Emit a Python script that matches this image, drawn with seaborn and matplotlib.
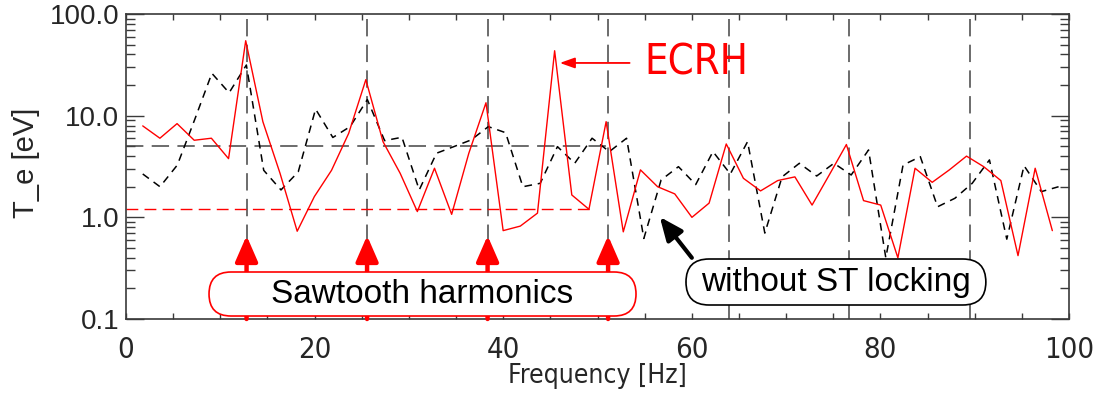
import numpy as np
import pandas as pd
import matplotlib
matplotlib.use("Agg")
import matplotlib.pyplot as plt
import matplotlib.font_manager as fm
import seaborn as sns
from matplotlib.patches import FancyBboxPatch
from matplotlib.ticker import FixedLocator, MultipleLocator, NullFormatter

# ---------------- data ----------------
ecrh_te = [7.93, 6.0, 8.35, 5.73, 6.0, 3.78, 54.6, 8.73, 2.71, 0.73,
           1.6, 2.9, 6.7, 22.6, 5.55, 2.71, 1.14, 3.04, 1.07, 4.27,
           13.4, 0.74, 0.82, 1.1, 43.5, 1.66, 1.2, 8.73, 0.72, 2.93,
           2.0, 1.7, 1.0, 1.38, 5.27, 2.42, 1.82, 2.3, 2.5, 1.32,
           2.61, 5.2, 1.46, 1.32, 0.40, 3.04, 2.21, 2.93, 4.0, 3.15,
           2.3, 0.42, 3.04, 0.74]
st_te = [2.67, 2.0, 3.27, 9.1, 26.1, 16.8, 31.5, 2.9, 1.86, 2.8,
         11.6, 6.1, 7.8, 14.4, 5.68, 6.13, 1.86, 4.27, 4.96, 5.77,
         7.8, 6.8, 2.0, 2.16, 4.96, 3.4, 6.0, 4.43, 6.0, 0.62,
         2.33, 3.15, 2.1, 4.43, 2.67, 5.55, 0.70, 2.5, 3.4, 2.55,
         3.4, 2.61, 4.6, 0.40, 3.27, 3.95, 1.27, 1.54, 2.16, 3.67,
         0.61, 3.22, 1.79, 2.0]
# frequency sampling grids (Hz)
ecrh_freq = np.round(1.77 + 1.820 * np.arange(len(ecrh_te)), 2)
st_freq = np.round(1.77 + 1.8325 * np.arange(len(st_te)), 2)

harmonic_freqs = [12.78, 25.56, 38.34, 51.12, 63.90, 76.68, 89.46]
arrow_harmonics = harmonic_freqs[:4]
st_level, st_level_end = 5.0, 51.5
ecrh_level, ecrh_level_end = 1.2, 49.3
x_ticks = [0, 20, 40, 60, 80, 100]
y_ticks = [0.1, 1.0, 10.0, 100.0]
y_ticklabels = ["0.1", "1.0", "10.0", "100.0"]

# ---------------- style ----------------
sns.set_theme(style="ticks")
plt.rcParams["font.family"] = ["Liberation Sans", "DejaVu Sans"]
plt.rcParams["lines.scale_dashes"] = False

# look for an installed narrow / condensed sans face
narrow_name = None
for fe in fm.fontManager.ttflist:
    if ("Narrow" in fe.name) or (fe.stretch in ("condensed", "semi-condensed")
                                 and "Sans" in fe.name and "Mono" not in fe.name):
        if fe.style == "normal" and fe.weight in (400, "normal", "regular"):
            narrow_name = fe.name
            break
if narrow_name is not None:
    NARROW = dict(family=[narrow_name, "DejaVu Sans"], stretch="condensed")
    ecrh_size, xt_size, xl_size = 30, 21, 19
else:
    NARROW = dict(family=["Liberation Sans", "DejaVu Sans"])
    ecrh_size, xt_size, xl_size = 26, 20, 19
SPINE = "#3a3a3a"

fig = plt.figure(figsize=(10.97, 4.0), dpi=100)
ax = fig.add_axes([0.1149, 0.2025, 0.8596, 0.7625])

df_ecrh = pd.DataFrame({"f": ecrh_freq, "Te": ecrh_te})
df_st = pd.DataFrame({"f": st_freq, "Te": st_te})

# reference levels and harmonic markers
for h in harmonic_freqs:
    ax.axvline(h, color="#444444", lw=1.1, linestyle=(0, (12.5, 6)), zorder=1)
ax.hlines(st_level, 0, st_level_end, color="#444444", lw=1.1,
          linestyle=(0, (12.5, 6)), zorder=1)
ax.hlines(ecrh_level, 0, ecrh_level_end, color="red", lw=1.0,
          linestyle=(0, (8.5, 4.5)), zorder=1)

sns.lineplot(data=df_st, x="f", y="Te", ax=ax, color="black", lw=1.1,
             linestyle=(0, (5.5, 4.2)), estimator=None, sort=False, zorder=2)
sns.lineplot(data=df_ecrh, x="f", y="Te", ax=ax, color="red", lw=1.0,
             estimator=None, sort=False, zorder=3)

ax.set_xscale("linear")
ax.set_yscale("log")
ax.set_xlim(0, 100)
ax.set_ylim(0.1, 100)

# sawtooth harmonic arrows
for h in arrow_harmonics:
    ax.annotate("", xy=(h, 0.66), xytext=(h, 0.1),
                arrowprops=dict(arrowstyle="-|>,head_length=0.78,head_width=0.34",
                                color="red", lw=3.2, mutation_scale=20,
                                shrinkA=0, shrinkB=0),
                zorder=4, annotation_clip=False)

# rounded label boxes (axes-fraction coordinates)
asp = (0.8596 * 10.97) / (0.7625 * 4.0)
box1 = FancyBboxPatch((0.088, 0.0098), 0.4528, 0.1443,
                      boxstyle="round,pad=0,rounding_size=0.0233",
                      mutation_aspect=asp, transform=ax.transAxes,
                      fc="white", ec="red", lw=1.2, zorder=5)
ax.add_patch(box1)
ax.text(0.088 + 0.4528 / 2, 0.0098 + 0.1443 / 2, "Sawtooth harmonics",
        transform=ax.transAxes, ha="center", va="center", fontsize=24,
        color="black", zorder=6)

box2 = FancyBboxPatch((0.5938, 0.0459), 0.318, 0.1508,
                      boxstyle="round,pad=0,rounding_size=0.0244",
                      mutation_aspect=asp, transform=ax.transAxes,
                      fc="white", ec="black", lw=1.2, zorder=5)
ax.add_patch(box2)
ax.text(0.5938 + 0.318 / 2, 0.0459 + 0.1508 / 2, "without ST locking",
        transform=ax.transAxes, ha="center", va="center", fontsize=24,
        color="black", zorder=6)

# pointer arrows
ax.annotate("", xy=(56.6, 1.01), xytext=(60.0, 0.40),
            arrowprops=dict(arrowstyle="-|>,head_length=0.7,head_width=0.3",
                            color="black", lw=3.0, mutation_scale=20,
                            shrinkA=0, shrinkB=0), zorder=6)
ax.annotate("", xy=(46.0, 33.0), xytext=(53.4, 33.0),
            arrowprops=dict(arrowstyle="-|>,head_length=0.9,head_width=0.32",
                            color="red", lw=1.3, mutation_scale=10,
                            shrinkA=0, shrinkB=0), zorder=6)
ax.text(55.0, 33.0, "ECRH", color="red", fontsize=ecrh_size,
        ha="left", va="center", zorder=6, **NARROW)

# axes, ticks and labels
ax.xaxis.set_major_locator(FixedLocator(x_ticks))
ax.xaxis.set_minor_locator(MultipleLocator(5))
ax.set_xticklabels([str(t) for t in x_ticks], fontsize=xt_size, **NARROW)
ax.yaxis.set_major_locator(FixedLocator(y_ticks))
ax.yaxis.set_minor_locator(FixedLocator(
    [m * d for d in (0.1, 1, 10) for m in range(2, 10)]))
ax.yaxis.set_minor_formatter(NullFormatter())
ax.set_yticklabels(y_ticklabels, fontsize=20)

ax.tick_params(axis="both", which="both", direction="in", top=True,
               right=True, color=SPINE, width=1.0)
ax.tick_params(axis="x", which="both", length=4, pad=12)
ax.tick_params(axis="y", which="major", length=13, pad=5)
ax.tick_params(axis="y", which="minor", length=6.5)
for s in ax.spines.values():
    s.set_color(SPINE)
    s.set_linewidth(1.2)

ax.set_xlabel("Frequency [Hz]", fontsize=xl_size, **NARROW)
ax.set_ylabel("T_e [eV]", fontsize=21)
ax.xaxis.set_label_coords(0.5, -0.145)
ax.yaxis.set_label_coords(-0.091, 0.511)
ax.set_facecolor("white")
fig.patch.set_facecolor("white")

fig.savefig("out.png", dpi=100)
